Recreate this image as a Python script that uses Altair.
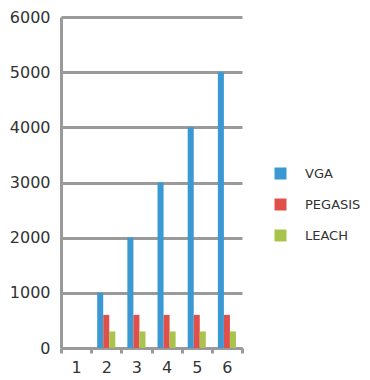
import altair as alt
import pandas as pd

categories = ["1", "2", "3", "4", "5", "6"]
vga = [0, 1000, 2000, 3000, 4000, 5000]
pegasis = [0, 600, 600, 600, 600, 600]
leach = [0, 300, 300, 300, 300, 300]
series = ["VGA", "PEGASIS", "LEACH"]
colors = ["#3A98D3", "#E0504A", "#A9C44C"]

rows = []
for name, vals in zip(series, [vga, pegasis, leach]):
    for c, v in zip(categories, vals):
        rows.append({"cat": c, "series": name, "value": v})
df = pd.DataFrame(rows)

grid = "#9A9A9A"
txt = "#333333"

chart = alt.Chart(df).mark_bar().encode(
    x=alt.X("cat:N", sort=categories, title=None,
            scale=alt.Scale(paddingInner=0, paddingOuter=0),
            axis=alt.Axis(labelAngle=0, tickBand="extent", ticks=True, tickSize=5,
                          tickColor=grid, tickWidth=3, domainColor=grid, domainWidth=3,
                          labelFontSize=16, labelColor=txt, labelFont="DejaVu Sans",
                          labelPadding=6, grid=False)),
    xOffset=alt.XOffset("series:N", sort=series,
                        scale=alt.Scale(paddingInner=0, paddingOuter=1)),
    y=alt.Y("value:Q", title=None,
            scale=alt.Scale(domain=[0, 6000], nice=False),
            axis=alt.Axis(values=[0, 1000, 2000, 3000, 4000, 5000, 6000], ticks=False,
                          format="d",
                          grid=True, gridColor=grid, gridWidth=3, gridOpacity=1,
                          domainColor=grid, domainWidth=3,
                          labelFontSize=16, labelColor=txt, labelFont="DejaVu Sans",
                          labelPadding=11)),
    color=alt.Color("series:N", sort=series, title=None,
                    scale=alt.Scale(domain=series, range=colors),
                    legend=alt.Legend(orient="none", legendX=213, legendY=150,
                                      symbolType="square", symbolSize=144,
                                      symbolStrokeWidth=0, rowPadding=17,
                                      labelFontSize=13, labelColor=txt,
                                      labelFont="DejaVu Sans", labelOffset=18)),
).properties(
    width=181, height=331,
    autosize=alt.AutoSizeParams(type="none"),
    padding={"left": 53, "top": 9, "right": 120, "bottom": 30},
).configure_view(stroke=None)

chart.save("out.html", embed_options={"renderer": "svg", "actions": False})
